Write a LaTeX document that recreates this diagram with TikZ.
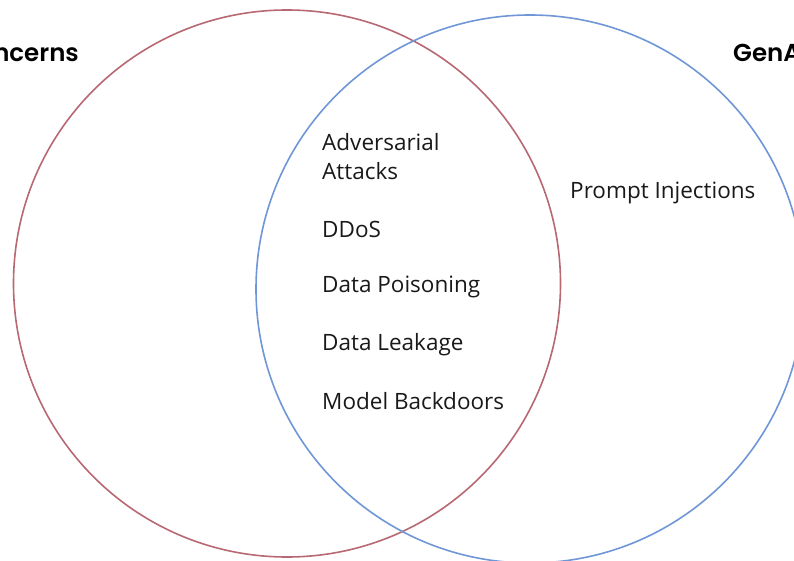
\documentclass[tikz,border=0pt]{standalone}
\usepackage{fontspec}
\setmainfont{Open Sans}
\newfontfamily\headfont{Poppins}[BoldFont={Poppins SemiBold}]
\usetikzlibrary{positioning}
\definecolor{mlred}{RGB}{183,104,115}
\definecolor{genblue}{RGB}{111,150,214}
\tikzset{
    ring/.style = {line width=1.6pt},
    item/.style = {anchor=west, inner sep=0pt, align=left, font=\fontsize{22.5}{29}\selectfont, text=black!90},
    head/.style = {inner sep=0pt, font=\headfont\bfseries\fontsize{24.5}{28}\selectfont}
}
\begin{document}
\begin{tikzpicture}[x=1pt,y=-1pt]
  \useasboundingbox (0,0) rectangle (794,561);
  \clip (0,0) rectangle (794,561);
  % the two sets
  \draw[ring,mlred] (287,283.5) circle (273.5);
  \draw[ring,genblue] (530,289) circle (274);

  % set titles, both run off the page
  \node[head,anchor=east] (mltitle) at (79,53) {ML Concerns};
  \node[head,anchor=west] (gentitle) at (733,53) {GenAI Concerns};

  % shared items
  \node[item] (adv) at (322,157) {Adversarial\\Attacks};
  \node[item] (ddos) at (322,229) {DDoS};
  \node[item] (poison) at (322,287) {Data Poisoning};
  \node[item] (leak) at (322,345) {Data Leakage};
  \node[item] (backdoor) at (322,401) {Model Backdoors};

  % generative only
  \node[item] (prompt) at (570,193) {Prompt Injections};
\end{tikzpicture}
\end{document}
